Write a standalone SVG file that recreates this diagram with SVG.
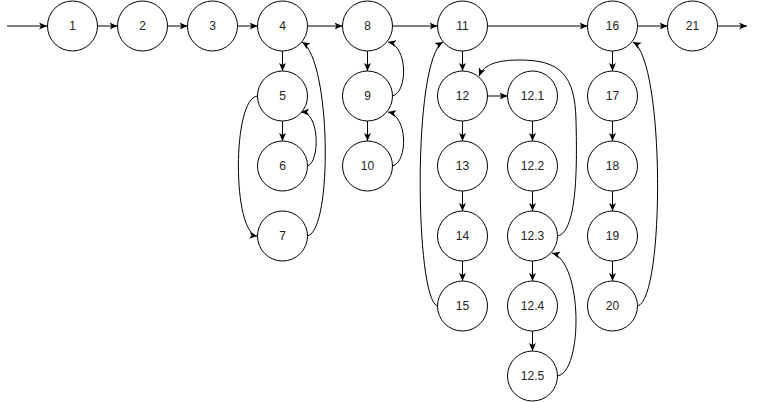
<svg xmlns="http://www.w3.org/2000/svg" width="757" height="402" viewBox="0 0 757 402">
<style>
.n circle{fill:#fff;stroke:#000;stroke-width:1}
.n text{font-family:"Liberation Sans",Arial,sans-serif;font-size:12px;fill:#222;text-anchor:middle}
#edges path{fill:none;stroke:#000;stroke-width:1;marker-end:url(#ah)}
</style>
<defs>
<marker id="ah" markerUnits="userSpaceOnUse" markerWidth="8" markerHeight="8" viewBox="0 0 8 8" refX="8" refY="4" orient="auto">
<path d="M0,0.5 L8,4 L0,7.5 L2,4 z" fill="#000"/>
</marker>
</defs>
<rect width="757" height="402" fill="#fff"/>
<g id="edges">
<path d="M7,26 H47"/>
<path d="M97.5,26 H117.5"/>
<path d="M167.5,26 H187.5"/>
<path d="M237.5,26 H257.5"/>
<path d="M307.5,26 H342.5"/>
<path d="M392.5,26 H437.5"/>
<path d="M487.5,26 H587.5"/>
<path d="M637.5,26 H667.5"/>
<path d="M717.5,26 H747"/>
<path d="M282.5,51 V71"/>
<path d="M282.5,121 V141"/>
<path d="M367.5,51 V71"/>
<path d="M367.5,121 V141"/>
<path d="M462.5,51 V71"/>
<path d="M462.5,121 V141"/>
<path d="M462.5,191 V211"/>
<path d="M462.5,261 V281"/>
<path d="M487.5,96 H507.5"/>
<path d="M532.5,121 V141"/>
<path d="M532.5,191 V211"/>
<path d="M532.5,261 V281"/>
<path d="M532.5,331 V351"/>
<path d="M612.5,51 V71"/>
<path d="M612.5,121 V141"/>
<path d="M612.5,191 V211"/>
<path d="M612.5,261 V281"/>
<path d="M257.5,96 C232,98 232,234 257.5,236"/>
<path d="M307.5,166 C320,162 320,112 301,112"/>
<path d="M307.5,236 C333,230 331,60 302,42"/>
<path d="M392.5,96 C408,92 408,46 388,42"/>
<path d="M392.5,166 C408,162 408,116 388,112"/>
<path d="M437.5,306 C415,300 412,60 443,42"/>
<path d="M557.5,236 C578,232 577,160 576,120 C575,75 560,60 520,60 C498,60 484,64 479,76"/>
<path d="M557.5,376 C583,372 583,262 552,253"/>
<path d="M637.5,306 C665,300 665,60 633,42"/>
</g>
<g id="n1" class="n"><circle cx="72.5" cy="26" r="25"/><text x="72.5" y="30">1</text></g>
<g id="n2" class="n"><circle cx="142.5" cy="26" r="25"/><text x="142.5" y="30">2</text></g>
<g id="n3" class="n"><circle cx="212.5" cy="26" r="25"/><text x="212.5" y="30">3</text></g>
<g id="n4" class="n"><circle cx="282.5" cy="26" r="25"/><text x="282.5" y="30">4</text></g>
<g id="n5" class="n"><circle cx="282.5" cy="96" r="25"/><text x="282.5" y="100">5</text></g>
<g id="n6" class="n"><circle cx="282.5" cy="166" r="25"/><text x="282.5" y="170">6</text></g>
<g id="n7" class="n"><circle cx="282.5" cy="236" r="25"/><text x="282.5" y="240">7</text></g>
<g id="n8" class="n"><circle cx="367.5" cy="26" r="25"/><text x="367.5" y="30">8</text></g>
<g id="n9" class="n"><circle cx="367.5" cy="96" r="25"/><text x="367.5" y="100">9</text></g>
<g id="n10" class="n"><circle cx="367.5" cy="166" r="25"/><text x="367.5" y="170">10</text></g>
<g id="n11" class="n"><circle cx="462.5" cy="26" r="25"/><text x="462.5" y="30">11</text></g>
<g id="n12" class="n"><circle cx="462.5" cy="96" r="25"/><text x="462.5" y="100">12</text></g>
<g id="n13" class="n"><circle cx="462.5" cy="166" r="25"/><text x="462.5" y="170">13</text></g>
<g id="n14" class="n"><circle cx="462.5" cy="236" r="25"/><text x="462.5" y="240">14</text></g>
<g id="n15" class="n"><circle cx="462.5" cy="306" r="25"/><text x="462.5" y="310">15</text></g>
<g id="n12_1" class="n"><circle cx="532.5" cy="96" r="25"/><text x="532.5" y="100">12.1</text></g>
<g id="n12_2" class="n"><circle cx="532.5" cy="166" r="25"/><text x="532.5" y="170">12.2</text></g>
<g id="n12_3" class="n"><circle cx="532.5" cy="236" r="25"/><text x="532.5" y="240">12.3</text></g>
<g id="n12_4" class="n"><circle cx="532.5" cy="306" r="25"/><text x="532.5" y="310">12.4</text></g>
<g id="n12_5" class="n"><circle cx="532.5" cy="376" r="25"/><text x="532.5" y="380">12.5</text></g>
<g id="n16" class="n"><circle cx="612.5" cy="26" r="25"/><text x="612.5" y="30">16</text></g>
<g id="n17" class="n"><circle cx="612.5" cy="96" r="25"/><text x="612.5" y="100">17</text></g>
<g id="n18" class="n"><circle cx="612.5" cy="166" r="25"/><text x="612.5" y="170">18</text></g>
<g id="n19" class="n"><circle cx="612.5" cy="236" r="25"/><text x="612.5" y="240">19</text></g>
<g id="n20" class="n"><circle cx="612.5" cy="306" r="25"/><text x="612.5" y="310">20</text></g>
<g id="n21" class="n"><circle cx="692.5" cy="26" r="25"/><text x="692.5" y="30">21</text></g>
</svg>
